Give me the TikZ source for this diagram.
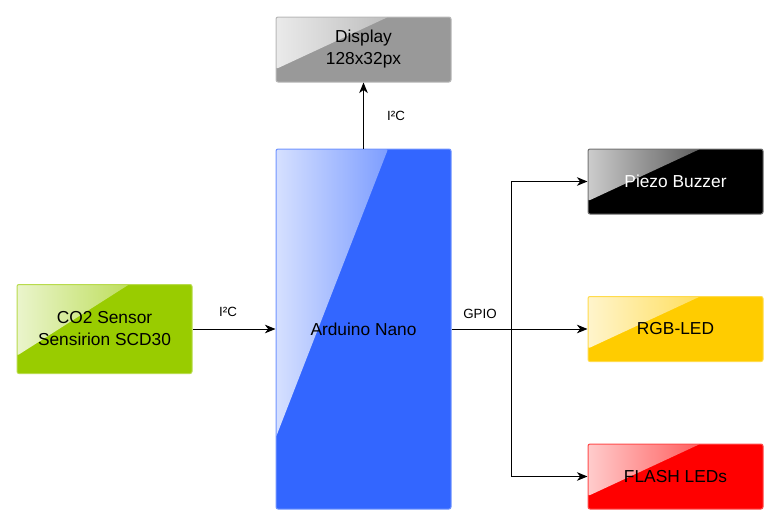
\documentclass[tikz,border=0pt]{standalone}
\usepackage{fontspec}
\setmainfont{Liberation Sans}
\usetikzlibrary{arrows.meta,calc,fadings}

\definecolor{dispgray}{RGB}{153,153,153}
\definecolor{nanoblue}{RGB}{51,102,255}
\definecolor{sensgreen}{RGB}{153,204,0}
\definecolor{ledyellow}{RGB}{255,204,0}
\definecolor{flashred}{RGB}{255,0,0}

\tikzfading[name=glossfade, left color=transparent!20, right color=transparent!88]

\tikzset{
  glossy/.style={path picture={
      \fill[white, path fading=glossfade]
        (path picture bounding box.north west)
        -- ($(path picture bounding box.north west)!0.64!(path picture bounding box.north east)$)
        -- ($(path picture bounding box.north west)!#1!(path picture bounding box.south west)$)
        -- cycle;}},
  block/.style={rectangle, rounded corners=1.5pt, fill=#1, draw=#1!70!white,
    line width=0.75pt, minimum width=131.25pt, minimum height=48.75pt,
    align=center, font=\fontsize{13}{16.5}\selectfont, glossy=0.8},
  wire/.style={line width=0.75pt, -{Stealth[length=8pt,width=6.5pt,inset=2.5pt]}},
  bus/.style={font=\fontsize{10}{12}\selectfont, inner sep=0pt}
}

\begin{document}
\begin{tikzpicture}[x=0.75pt,y=0.75pt,yscale=-1,xscale=1]
    \useasboundingbox (0,0) rectangle (779,525);

    % Blocks
    \node [block=dispgray] (display) at (363.5,49.5) {Display\\128x32px};
    \node [block=nanoblue, minimum height=270pt] (nano) at (363.5,329) {Arduino Nano};
    \node [block=sensgreen, minimum height=66.75pt] (sensor) at (104.5,329) {CO2 Sensor\\Sensirion SCD30};
    \node [block=black, draw=black!55!white, text=white] (buzzer) at (675.5,181.5) {Piezo Buzzer};
    \node [block=ledyellow] (rgbled) at (675.5,329) {RGB-LED};
    \node [block=flashred] (flashled) at (675.5,476.5) {FLASH LEDs};

    % Branch point
    \coordinate (gpio) at (511,329);

    % Connectors
    \draw [wire] (nano.north) -- (display.south);
    \draw [wire] (sensor.east) -- (nano.west);
    \draw [line width=0.75pt] (nano.east) -- (gpio);
    \draw [wire] (gpio) -- (rgbled.west);
    \draw [wire] (gpio) |- (buzzer.west);
    \draw [wire] (gpio) |- (flashled.west);

    % Text Node
    \node [bus] (i2ctop) at (396,116) {I²C};
    % Text Node
    \node [bus] (i2cleft) at (228,312) {I²C};
    % Text Node
    \node [bus] (gpiolabel) at (480,314) {GPIO};
\end{tikzpicture}
\end{document}
